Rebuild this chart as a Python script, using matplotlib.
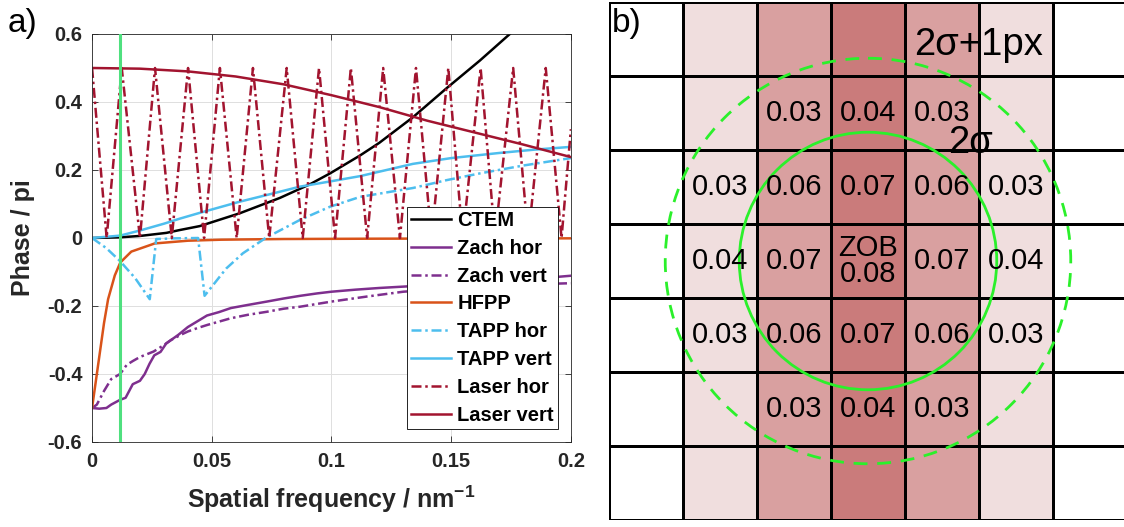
import matplotlib
matplotlib.use('Agg')
import matplotlib.pyplot as plt
from matplotlib.colors import ListedColormap
from matplotlib.patches import Circle

plt.rcParams['font.family'] = ['Liberation Sans', 'DejaVu Sans']
plt.rcParams['mathtext.fontset'] = 'custom'
plt.rcParams['mathtext.bf'] = 'Liberation Sans:bold'
plt.rcParams['mathtext.rm'] = 'Liberation Sans:bold'

# ---- panel a) data (spatial frequency in nm^-1, phase in pi)
ctem_f = [0, 0.0117, 0.02, 0.031, 0.0367, 0.045, 0.0618, 0.0785, 0.091, 0.0994,
          0.112, 0.12, 0.134, 0.148, 0.162, 0.1745]
ctem_p = [0, 0.002, 0.006, 0.015, 0.0235, 0.035, 0.073, 0.118, 0.158, 0.19,
          0.243, 0.28, 0.355, 0.44, 0.522, 0.6]

zach_hor_f = [0, 0.003, 0.006, 0.008, 0.0117, 0.014, 0.017, 0.02, 0.022, 0.024, 0.026,
              0.0286, 0.031, 0.033, 0.036, 0.04, 0.044, 0.048, 0.053, 0.058, 0.065,
              0.073, 0.08, 0.087, 0.094, 0.1, 0.11, 0.12, 0.13, 0.15, 0.17, 0.185, 0.2]
zach_hor_p = [-0.5, -0.502, -0.5, -0.49, -0.476, -0.47, -0.43, -0.42, -0.4, -0.37, -0.345,
              -0.335, -0.31, -0.30, -0.285, -0.262, -0.245, -0.228, -0.218, -0.206, -0.197,
              -0.187, -0.178, -0.17, -0.163, -0.158, -0.152, -0.147, -0.143, -0.135, -0.127,
              -0.12, -0.111]

zach_vert_f = [0, 0.002, 0.005, 0.008, 0.0117, 0.0145, 0.017, 0.02, 0.0257, 0.03, 0.033,
               0.037, 0.04, 0.044, 0.048, 0.053, 0.058, 0.065, 0.073, 0.08, 0.087, 0.1,
               0.115, 0.13, 0.15, 0.17, 0.185, 0.2]
zach_vert_p = [-0.5, -0.49, -0.45, -0.415, -0.40, -0.373, -0.362, -0.35, -0.334, -0.315, -0.30,
               -0.285, -0.275, -0.265, -0.256, -0.246, -0.236, -0.226, -0.217, -0.208, -0.202,
               -0.187, -0.172, -0.158, -0.148, -0.14, -0.136, -0.133]

hfpp_f = [0, 0.001, 0.002, 0.003, 0.004, 0.005, 0.0067, 0.0095, 0.0118, 0.0164, 0.0262,
          0.04, 0.054, 0.08, 0.12, 0.2]
hfpp_p = [-0.5, -0.45, -0.40, -0.35, -0.30, -0.25, -0.18, -0.11, -0.072, -0.04, -0.016,
          -0.008, -0.005, -0.003, -0.002, -0.001]

tapp_hor_f = [0, 0.006, 0.0117, 0.018, 0.0241, 0.0268, 0.035, 0.0443, 0.047, 0.056, 0.063,
              0.0725, 0.0868, 0.0994, 0.112, 0.134, 0.148, 0.162, 0.18, 0.2]
tapp_hor_p = [0, -0.03, -0.068, -0.118, -0.18, -0.003, -0.001, 0, -0.17, -0.09, -0.045,
              0, 0.053, 0.092, 0.121, 0.147, 0.17, 0.19, 0.213, 0.235]

tapp_vert_f = [0, 0.0117, 0.02, 0.03, 0.0367, 0.045, 0.0618, 0.075, 0.0868, 0.1, 0.112,
               0.134, 0.15, 0.17, 0.185, 0.2]
tapp_vert_p = [0, 0.007, 0.022, 0.042, 0.057, 0.074, 0.107, 0.13, 0.151, 0.167, 0.182,
               0.218, 0.235, 0.25, 0.26, 0.268]

laser_hor_f = [0, 0.0061, 0.0124, 0.0200, 0.0263, 0.0333, 0.0401, 0.0468, 0.0534, 0.0604,
               0.0672, 0.0740, 0.0813, 0.0880, 0.0948, 0.1015, 0.1081, 0.1149, 0.1216,
               0.1286, 0.1353, 0.1418, 0.1488, 0.1548, 0.1623, 0.1683, 0.1759, 0.1822,
               0.1895, 0.1961, 0.2]
laser_hor_p = [0.5, 0, 0.5, 0, 0.5, 0, 0.5, 0, 0.5, 0, 0.5, 0, 0.5, 0, 0.5, 0, 0.5, 0,
               0.5, 0, 0.5, 0, 0.5, 0, 0.5, 0, 0.5, 0, 0.5, 0, 0.32]

laser_vert_f = [0, 0.02, 0.04, 0.06, 0.08, 0.1, 0.12, 0.14, 0.16, 0.18, 0.2]
laser_vert_p = [0.5, 0.498, 0.49, 0.475, 0.452, 0.42, 0.385, 0.345, 0.31, 0.275, 0.238]

marker_freq = 0.0117

# ---- panel b) data: 7x7 pixel grid
col_level = [0, 1, 2, 3, 2, 1, 0]
cell_labels = [
    ['', '', '', '', '', '', ''],
    ['', '', '0.03', '0.04', '0.03', '', ''],
    ['', '0.03', '0.06', '0.07', '0.06', '0.03', ''],
    ['', '0.04', '0.07', 'ZOB\n0.08', '0.07', '0.04', ''],
    ['', '0.03', '0.06', '0.07', '0.06', '0.03', ''],
    ['', '', '0.03', '0.04', '0.03', '', ''],
    ['', '', '', '', '', '', ''],
]
r_2sigma = 1.74
r_2sigma_px = 2.74

fig = plt.figure(figsize=(11.24, 5.27), dpi=100)

# ---------------- a)
ax = fig.add_axes([0.0819, 0.1613, 0.426, 0.7742])
dashdot = (0, (4, 1.5, 1, 1.5))
lw = 1.8
ax.plot(ctem_f, ctem_p, color='black', lw=lw, label='CTEM')
ax.plot(zach_hor_f, zach_hor_p, color='#7E2F8E', lw=lw, label='Zach hor')
ax.plot(zach_vert_f, zach_vert_p, color='#7E2F8E', lw=lw, ls=dashdot, label='Zach vert')
ax.plot(hfpp_f, hfpp_p, color='#D95319', lw=lw, label='HFPP')
ax.plot(tapp_hor_f, tapp_hor_p, color='#4DBEEE', lw=lw, ls=dashdot, label='TAPP hor')
ax.plot(tapp_vert_f, tapp_vert_p, color='#4DBEEE', lw=lw, label='TAPP vert')
ax.plot(laser_hor_f, laser_hor_p, color='#A2142F', lw=lw, ls=dashdot, label='Laser hor')
ax.plot(laser_vert_f, laser_vert_p, color='#A2142F', lw=lw, label='Laser vert')
ax.axvline(marker_freq, color='#4fe07f', lw=2.2, zorder=5)

ax.set_xlim(0, 0.2)
ax.set_ylim(-0.6, 0.6)
ax.set_xticks([0, 0.05, 0.1, 0.15, 0.2])
ax.set_xticklabels(['0', '0.05', '0.1', '0.15', '0.2'])
ax.set_yticks([-0.6, -0.4, -0.2, 0, 0.2, 0.4, 0.6])
ax.set_yticklabels(['-0.6', '-0.4', '-0.2', '0', '0.2', '0.4', '0.6'])
ax.tick_params(direction='in', top=True, right=True, length=4, width=0.6,
               color='#262626', labelcolor='#262626', labelsize=14.5, pad=7)
for lab in ax.get_xticklabels() + ax.get_yticklabels():
    lab.set_fontweight('bold')
for sp in ax.spines.values():
    sp.set_color('#262626')
    sp.set_linewidth(0.6)
ax.grid(True, color='#dfdfdf', lw=0.7)
ax.set_axisbelow(True)
ax.set_xlabel(r'Spatial frequency / nm$^{\mathbf{-1}}$', fontsize=18, fontweight='bold',
              color='#262626', labelpad=9)
ax.set_ylabel('Phase / pi', fontsize=18, fontweight='bold', color='#262626', labelpad=9)
leg = ax.legend(loc='lower right', bbox_to_anchor=(0.973, 0.032), borderaxespad=0,
                fancybox=False, edgecolor='black', framealpha=1,
                prop={'weight': 'bold', 'size': 14.5}, handlelength=2.0,
                handletextpad=0.3, labelspacing=0.44, borderpad=0.2)
leg.get_frame().set_linewidth(0.6)
fig.text(0.007, 0.985, 'a)', fontsize=24, va='top', ha='left')

# ---------------- b)
bx = fig.add_axes([609 / 1124, 7 / 527, 518 / 1124, 518 / 527])
shade = [col_level for _ in range(7)]
cmap = ListedColormap(['white', '#f0dede', '#d9a0a0', '#ca7b7b'])
bx.pcolormesh(range(8), range(8), shade, cmap=cmap, vmin=-0.5, vmax=3.5,
              edgecolors='black', linewidth=1.9)
bx.set_xlim(0, 7)
bx.set_ylim(7, 0)
bx.axis('off')
for r, row in enumerate(cell_labels):
    for c, txt in enumerate(row):
        if txt:
            bx.text(c + 0.5, r + 0.5, txt, ha='center', va='center', fontsize=21,
                    linespacing=0.95)
gc = '#2bf02b'
bx.add_patch(Circle((3.5, 3.5), r_2sigma, fill=False, ec=gc, lw=2.0))
bx.add_patch(Circle((3.5, 3.5), r_2sigma_px, fill=False, ec=gc, lw=2.0,
                    ls=(0, (5, 3.5))))
bx.text(4.13, 0.58, '2σ+1px', fontsize=27.5, ha='left', va='center')
bx.text(4.58, 1.9, '2σ', fontsize=27.5, ha='left', va='center')
bx.text(0.04, 0.08, 'b)', fontsize=24, ha='left', va='top')

fig.savefig('out.png', dpi=100)
